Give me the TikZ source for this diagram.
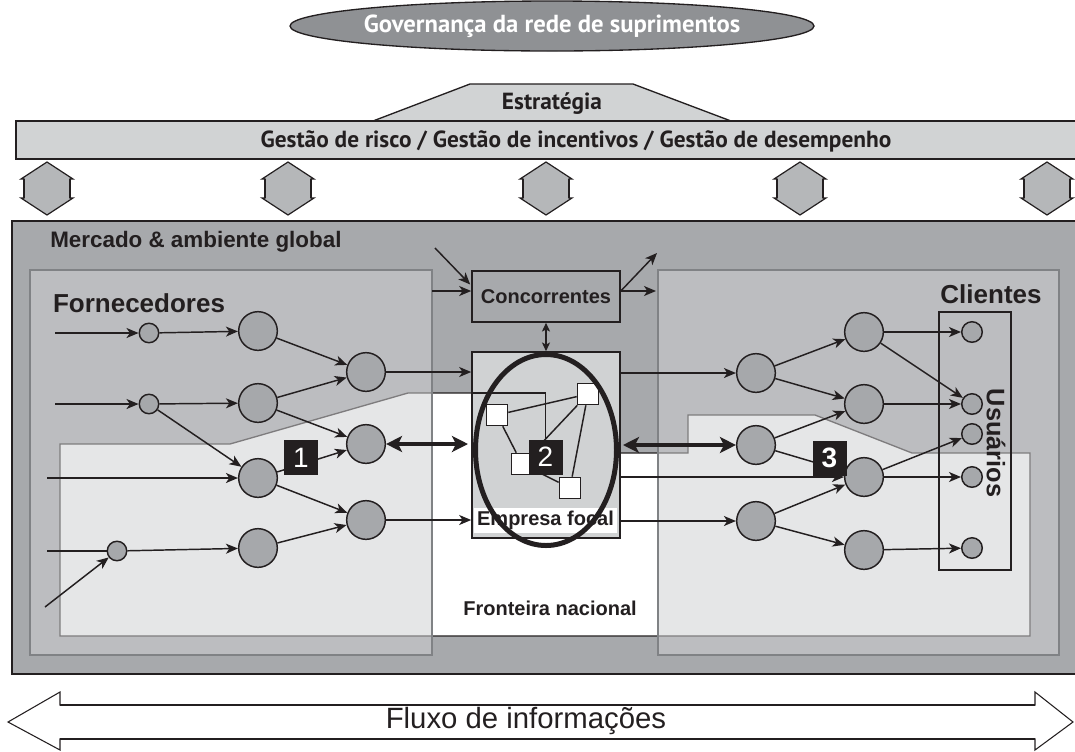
\documentclass[tikz,border=0pt]{standalone}
\usepackage{fontspec}
\setmainfont{Liberation Sans}
\newfontfamily\ptsans{PT Sans}
\usetikzlibrary{arrows.meta,shapes.geometric,calc}
\definecolor{dk}{HTML}{231F20}
\definecolor{mainbg}{HTML}{A7A9AC}
\definecolor{circ}{HTML}{A6A8AB}
\definecolor{lite}{HTML}{D1D3D4}
\definecolor{focalbg}{HTML}{D0D2D3}
\definecolor{hexf}{HTML}{B5B7B9}
\definecolor{gov}{HTML}{8F9194}
\definecolor{boxln}{HTML}{808285}
\definecolor{ovl}{HTML}{CFD0D2}
\tikzset{
 bigc/.style={circle, draw=dk, fill=circ, line width=1.1pt, minimum size=29pt, inner sep=0pt},
 smc/.style={circle, draw=dk, fill=circ, line width=1.1pt, minimum size=14.6pt, inner sep=0pt},
 usc/.style={smc, minimum size=15.4pt},
 arr/.style={draw=dk, line width=1.1pt, -{Stealth[length=9pt,width=7.5pt,inset=2.5pt]}},
 dbl/.style={draw=dk, line width=1pt, {Stealth[length=6.5pt,width=6pt,inset=1.5pt]}-{Stealth[length=6.5pt,width=6pt,inset=1.5pt]}},
 thk/.style={draw=dk, line width=3pt, {Stealth[length=12pt,width=12pt,inset=3pt]}-{Stealth[length=12pt,width=12pt,inset=3pt]}},
 ln/.style={draw=dk, line width=1.1pt},
 numbox/.style={fill=dk, text=white, minimum width=25.5pt, minimum height=26.25pt, inner sep=0pt, font=\fontsize{21}{21}\selectfont},
 sq/.style={draw=dk, fill=white, line width=1pt, minimum size=16pt, inner sep=0pt},
 lbl/.style={font=\bfseries\fontsize{15}{15}\selectfont, text=dk, inner sep=0pt},
 toptxt/.style={font=\ptsans\bfseries\fontsize{17.5}{17.5}\selectfont, text=dk, inner sep=0pt},
}
\begin{document}
\begin{tikzpicture}[x=0.75pt,y=-0.75pt]
\useasboundingbox (0,0) rectangle (1075,751);
% ---- governance
\node[ellipse, draw=dk, fill=gov, line width=1pt, minimum width=393pt, minimum height=37.5pt, inner sep=0pt] (gov) at (552,26) {};
\node[toptxt, text=white, font=\ptsans\bfseries\fontsize{18.5}{18.5}\selectfont] (govt) at (gov.center) {Governança da rede de suprimentos};
% ---- strategy
\draw[draw=dk, fill=lite, line width=1pt] (373,121) -- (470,84) -- (633,84) -- (731,121);
\node[toptxt] (estr) at (552,104) {Estratégia};
\draw[draw=dk, fill=lite, line width=1.2pt] (16,121) rectangle (1090,159);
\node[toptxt] (gest) at (576,141) {Gestão de risco / Gestão de incentivos / Gestão de desempenho};
% ---- hexagons
\foreach \cx in {47,288,546,800,1047}{
 \draw[draw=dk, fill=hexf, line width=0.9pt] (\cx,162) -- (\cx+26,179) -- (\cx+23,179) -- (\cx+23,198) -- (\cx+26,198) -- (\cx,215) -- (\cx-26,198) -- (\cx-23,198) -- (\cx-23,179) -- (\cx-26,179) -- cycle;
 \draw[dk, line width=1.8pt] (\cx+23,179) -- (\cx+23,198) (\cx-23,179) -- (\cx-23,198);
}
% ---- main area
\draw[draw=dk, fill=mainbg, line width=1.6pt] (12,221) rectangle (1090,674);
% national region
\draw[draw=dk, fill=white, line width=1pt] (60,444) -- (230,444) -- (408,393) -- (560,393) -- (560,453) -- (688,453) -- (688,415) -- (815,415) -- (912,453) -- (1030,453) -- (1030,636) -- (60,636) -- cycle;
% supplier / customer boxes
\draw[draw=boxln, fill=ovl, fill opacity=0.53, line width=1.4pt] (30,270) rectangle (432,655);
\draw[draw=boxln, fill=ovl, fill opacity=0.53, line width=1.4pt] (658,270) rectangle (1059,655);
% labels
\node[lbl, anchor=west, font=\bfseries\fontsize{16.8}{16.8}\selectfont] (merc) at (50,242) {Mercado \& ambiente global};
\node[lbl, font=\bfseries\fontsize{19.5}{19.5}\selectfont] (forn) at (139,303) {Fornecedores};
\node[lbl, font=\bfseries\fontsize{19.5}{19.5}\selectfont] (cli) at (991,294) {Clientes};
\node[lbl] (fron) at (550,608) {Fronteira nacional};
% ---- competitors & focal firm
\node[draw=dk, fill=mainbg, line width=1.2pt, minimum width=111pt, minimum height=38.25pt, lbl] (conc) at (546,296.5) {Concorrentes};
\node[draw=dk, fill=focalbg, line width=1.2pt, minimum width=111pt, minimum height=139.5pt, inner sep=0pt] (focal) at (546,445) {};
\node[sq] (q1) at (497,415) {};
\node[sq] (q2) at (588,394) {};
\node[sq] (q3) at (522,464) {};
\node[sq] (q4) at (570,488) {};
\draw[ln] (q1) -- (q2) (q1) -- (q3) (q2) -- (q3) (q2) -- (q4) (q3) -- (q4);
\node[numbox] (n2) at (545.5,457) {2};
\coordinate (nl) at (472,393);
\draw[ln] (nl) -| (n2.north);
\node[fill=white, minimum width=107pt, minimum height=18.75pt, lbl] (efl) at (545.5,520.5) {Empresa focal};
\node[ellipse, draw=dk, line width=3.75pt, minimum width=105.75pt, minimum height=143.25pt, inner sep=0pt] (ell) at (546,450) {};
% competitor arrows
\coordinate (ci1) at (435,248);
\draw[arr] (ci1) -- ($(conc.west)+(-1,-12)$);
\coordinate (cin) at (432,291);
\draw[arr] (cin) -- (cin -| conc.west);
\coordinate (cout) at (656,291);
\coordinate (cup) at (657,253);
\draw[arr] (conc.east |- cout) -- (cout);
\draw[arr] (conc.east |- cout) -- (cup);
\draw[dbl] (conc) -- (focal);
% ---- supplier nodes
\node[smc] (s1) at (149,333) {};
\node[smc] (s2) at (149,404) {};
\node[smc] (s3) at (117,551) {};
\node[bigc] (A1) at (258,331) {};
\node[bigc] (A2) at (258,403) {};
\node[bigc] (A3) at (258,478) {};
\node[bigc] (A4) at (258,548) {};
\node[bigc] (B1) at (366,372) {};
\node[bigc] (B2) at (366,444) {};
\node[bigc] (B3) at (366,520) {};
\coordinate (i1) at (55,333);
\coordinate (i2) at (55,404);
\coordinate (i3) at (47,478);
\coordinate (i4) at (47,551);
\coordinate (i5) at (45,607);
\draw[arr] (i1) -- (s1);
\draw[arr] (i2) -- (s2);
\draw[arr] (i3) -- (A3);
\draw[ln] (i4) -- (s3);
\draw[arr] (i5) -- (s3);
\draw[arr] (s1) -- (A1);
\draw[arr] (s2) -- (A2);
\draw[arr] (s2) -- (A3);
\draw[arr] (s3) -- (A4);
\draw[arr] (A1) -- (B1);
\draw[arr] (A2) -- (B1);
\draw[arr] (A2) -- (B2);
\draw[arr] (A3) -- (B2);
\draw[arr] (A3) -- (B3);
\draw[arr] (A4) -- (B3);
\draw[arr] (B1) -- (B1 -| focal.west);
\draw[arr] (B3) -- (B3 -| focal.west);
\coordinate (tl) at (468,444);
\draw[thk] (B2) -- (tl);
\node[numbox] (n1) at (301,457.5) {1};
% ---- customer nodes
\node[draw=dk, line width=1.2pt, minimum width=54pt, minimum height=193.5pt, inner sep=0pt] (ubox) at (975,441) {};
\node[bigc] (C1) at (756,373) {};
\node[bigc] (C2) at (756,445) {};
\node[bigc] (C3) at (756,521) {};
\node[bigc] (D1) at (864,332) {};
\node[bigc] (D2) at (864,404) {};
\node[bigc] (D3) at (864,477) {};
\node[bigc] (D4) at (864,550) {};
\node[usc] (u1) at (972,332) {};
\node[usc] (u2) at (972,404) {};
\node[usc] (u3) at (972,434) {};
\node[usc] (u4) at (972,477) {};
\node[usc] (u5) at (972,548) {};
\draw[arr] (focal.east |- C1) -- (C1);
\coordinate (tr) at (623,445);
\draw[thk] (tr) -- (C2);
\draw[arr] (focal.east |- D3) -- (D3);
\draw[arr] (focal.east |- C3) -- (C3);
\draw[arr] (C1) -- (D1);
\draw[arr] (C1) -- (D2);
\draw[arr] (C2) -- (D2);
\draw[arr] (C2) -- (D3);
\draw[arr] (C3) -- (D3);
\draw[arr] (C3) -- (D4);
\draw[arr] (D1) -- (u1);
\draw[arr] (D1) -- (u2);
\draw[arr] (D2) -- (u2);
\draw[arr] (D3) -- (u3);
\draw[arr] (D3) -- (u4);
\draw[arr] (D4) -- (u5);
\node[numbox, font=\bfseries\fontsize{21}{21}\selectfont] (n3) at (829.5,458) {3};
\node[lbl, rotate=-90, font=\bfseries\fontsize{19}{19}\selectfont] (usu) at (996,443) {Usuários};
% ---- information flow
\draw[draw=dk, line width=0.8pt] (8,722) -- (60,692) -- (60,705) -- (1035,705) -- (1035,692) -- (1073,722) -- (1035,750) -- (1035,739) -- (60,739) -- (60,750) -- cycle;
\draw[dk, line width=1.8pt] (60,705) -- (1035,705) (60,739) -- (1035,739);
\node[font=\fontsize{22}{22}\selectfont, text=dk] (flux) at (526,721) {Fluxo de informações};
\end{tikzpicture}
\end{document}
